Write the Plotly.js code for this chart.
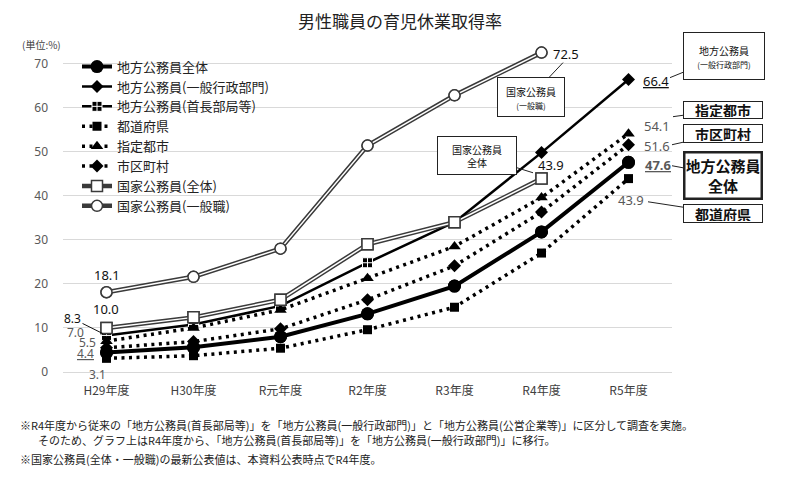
<!DOCTYPE html>
<html><head><meta charset="utf-8">
<script src="https://cdn.plot.ly/plotly-3.0.1.min.js"></script>
<style>html,body{margin:0;padding:0;background:#fff;}#chart{width:800px;height:499px;}</style>
</head><body><div id="chart"></div>
<script>
// ---- data ----
const categories = ['H29年度','H30年度','R元年度','R2年度','R3年度','R4年度','R5年度'];
const chihouAll   = [4.4, 5.6, 8.0, 13.2, 19.5, 31.8, 47.6];
const ippanGyosei = [null, null, null, null, null, 49.8, 66.4];
const shucho      = [8.3, 10.8, 15.0, 24.8, 34.0, null, null];
const todofuken   = [3.1, 3.7, 5.4, 9.6, 14.7, 27.0, 43.9];
const shitei      = [7.0, 10.0, 14.1, 21.3, 28.5, 39.6, 54.1];
const shiku       = [5.5, 6.9, 9.8, 16.4, 24.1, 36.3, 51.6];
const kokkaAll    = [10.0, 12.4, 16.4, 29.0, 34.0, 43.9, null];
const kokkaIppan  = [18.1, 21.6, 28.0, 51.4, 62.8, 72.5, null];
const seriesNames = ['地方公務員全体','地方公務員(一般行政部門)','地方公務員(首長部局等)','都道府県','指定都市','市区町村','国家公務員(全体)','国家公務員(一般職)'];

const JP = '"Noto Sans CJK JP", "Noto Sans", sans-serif';
const NUM = '"Noto Sans", "Liberation Sans", sans-serif';
const DOT = '3px,4.5px';
const base = {x: categories, type: 'scatter', cliponaxis: false, hoverinfo: 'skip'};

const traces = [
  Object.assign({}, base, {name: seriesNames[0], y: chihouAll, mode: 'lines+markers',
    line: {color: '#000', width: 4}, marker: {symbol: 'circle', size: 13, color: '#000'}}),
  Object.assign({}, base, {name: seriesNames[1], y: ippanGyosei, mode: 'lines+markers',
    line: {color: '#000', width: 2.5}, marker: {symbol: 'diamond', size: 10, color: '#000'}}),
  Object.assign({}, base, {name: seriesNames[2], y: shucho, mode: 'lines+markers',
    line: {color: '#000', width: 2.5}, marker: {symbol: 'square-cross', size: 10, color: '#000', line: {color: '#fff', width: 1}}}),
  Object.assign({}, base, {name: seriesNames[3], y: todofuken, mode: 'lines+markers',
    line: {color: '#000', width: 3.5, dash: DOT}, marker: {symbol: 'square', size: 9, color: '#000'}}),
  Object.assign({}, base, {name: seriesNames[4], y: shitei, mode: 'lines+markers',
    line: {color: '#000', width: 3.5, dash: DOT}, marker: {symbol: 'triangle-up', size: 11, color: '#000'}}),
  Object.assign({}, base, {name: seriesNames[5], y: shiku, mode: 'lines+markers',
    line: {color: '#000', width: 3.5, dash: DOT}, marker: {symbol: 'diamond', size: 10, color: '#000'}}),
  Object.assign({}, base, {name: seriesNames[6], y: kokkaAll, mode: 'lines+markers',
    line: {color: '#3a3a3a', width: 4.5}, marker: {symbol: 'square', size: 11, color: '#fff', line: {color: '#3a3a3a', width: 1.5}}}),
  Object.assign({}, base, {name: seriesNames[7], y: kokkaIppan, mode: 'lines+markers',
    line: {color: '#3a3a3a', width: 4.5}, marker: {symbol: 'circle', size: 11, color: '#fff', line: {color: '#3a3a3a', width: 1.5}}}),
  // helper: connector from 首長部局等 (R3) to 一般行政部門 (R4)
  Object.assign({}, base, {showlegend: false, x: [categories[4], categories[5]], y: [shucho[4], ippanGyosei[5]], mode: 'lines',
    line: {color: '#000', width: 2.5}}),
  // helper: white inner lines for double lines
  Object.assign({}, base, {showlegend: false, y: kokkaAll, mode: 'lines', line: {color: '#fff', width: 1.5}}),
  Object.assign({}, base, {showlegend: false, y: kokkaIppan, mode: 'lines', line: {color: '#fff', width: 1.5}}),
  Object.assign({}, base, {showlegend: false, y: kokkaAll, mode: 'markers', marker: {symbol: 'square', size: 11, color: '#fff', line: {color: '#3a3a3a', width: 1.5}}}),
  Object.assign({}, base, {showlegend: false, y: kokkaIppan, mode: 'markers', marker: {symbol: 'circle', size: 11, color: '#fff', line: {color: '#3a3a3a', width: 1.5}}}),
  Object.assign({}, base, {showlegend: false, y: chihouAll, mode: 'markers', marker: {symbol: 'circle', size: 13, color: '#000'}})
];

// ---- plot geometry helpers (for callout boxes) ----
const YMAX = 74;
const L = 63, R = 672, B = 372, T = B - YMAX * (308 / 70);
const px = v => (v - L) / (R - L);
const py = v => (B - v) / (B - T);

function lab(i, val, text, xs, ys, color, size) {
  return {xref: 'x', yref: 'y', x: categories[i], y: val, text: text, showarrow: false,
    xshift: xs, yshift: ys, font: {family: NUM, size: size || 13, color: color}};
}
const G = '#595959', K = '#111';
const annotations = [
  lab(0, kokkaIppan[0], kokkaIppan[0].toFixed(1), 0, 17, K),
  lab(0, kokkaAll[0], kokkaAll[0].toFixed(1), -1, 19, K),
  {xref: 'x', yref: 'y', x: categories[0], y: shucho[0], text: shucho[0].toFixed(1), showarrow: true,
    arrowhead: 0, arrowwidth: 1, arrowcolor: '#111', ax: -34, ay: -17, standoff: 4,
    font: {family: NUM, size: 12, color: K}},
  lab(0, shitei[0], shitei[0].toFixed(1), -31, 9, G, 12),
  lab(0, shiku[0], shiku[0].toFixed(1), -19, 5, G, 12),
  lab(0, chihouAll[0], '<u>' + chihouAll[0].toFixed(1) + '</u>', -21, -1, G, 12),
  lab(0, todofuken[0], todofuken[0].toFixed(1), -9, -16, G, 12),
  lab(5, kokkaIppan[5], kokkaIppan[5].toFixed(1), 24, -1, K),
  lab(6, ippanGyosei[6], '<u>' + ippanGyosei[6].toFixed(1) + '</u>', 27, -2, K),
  lab(6, shitei[6], shitei[6].toFixed(1), 28, 8, G),
  lab(6, shiku[6], shiku[6].toFixed(1), 28, -1, G),
  lab(6, chihouAll[6], '<b><u>' + chihouAll[6].toFixed(1) + '</u></b>', 29, -3, G),
  lab(6, todofuken[6], todofuken[6].toFixed(1), 2, -21, G),
  lab(5, kokkaAll[5], kokkaAll[5].toFixed(1), 9, 14, K),
  // unit
  {xref: 'paper', yref: 'paper', x: px(20), y: py(45), xanchor: 'left', yanchor: 'middle', showarrow: false,
    text: '(単位:%)', font: {family: JP, size: 10, color: '#444'}},
  // footnotes
  {xref: 'paper', yref: 'paper', x: px(18), y: py(425), xanchor: 'left', yanchor: 'middle', showarrow: false,
    text: '※R4年度から従来の「地方公務員(首長部局等)」を「地方公務員(一般行政部門)」と「地方公務員(公営企業等)」に区分して調査を実施。',
    font: {family: JP, size: 11, color: '#222'}},
  {xref: 'paper', yref: 'paper', x: px(36), y: py(440), xanchor: 'left', yanchor: 'middle', showarrow: false,
    text: 'そのため、グラフ上はR4年度から、「地方公務員(首長部局等)」を「地方公務員(一般行政部門)」に移行。',
    font: {family: JP, size: 11, color: '#222'}},
  {xref: 'paper', yref: 'paper', x: px(18), y: py(459), xanchor: 'left', yanchor: 'middle', showarrow: false,
    text: '※国家公務員(全体・一般職)の最新公表値は、本資料公表時点でR4年度。',
    font: {family: JP, size: 11, color: '#222'}}
];

function callout(tipX, tipY, cx, cy, w, h, text, size, bw, bold) {
  return {xref: 'paper', yref: 'paper', x: px(tipX), y: py(tipY), ax: cx - tipX, ay: cy - tipY,
    axref: 'pixel', ayref: 'pixel', showarrow: true, arrowhead: 0, arrowwidth: 1, arrowcolor: '#222',
    text: bold ? '<b>' + text + '</b>' : text, width: w, height: h, align: 'center', valign: 'middle',
    bgcolor: '#fff', bordercolor: '#222', borderwidth: bw, borderpad: 1,
    font: {family: JP, size: size, color: '#111'}};
}
annotations.push(
  callout(563, 63, 531, 97, 64, 36, '国家公務員<br><span style="font-size:8px">(一般職)</span>', 10, 1, false),
  callout(533, 173, 477, 155.5, 76, 35, '国家公務員<br>全体', 10, 1, false),
  callout(670, 78, 724, 56, 78, 44, '地方公務員<br><span style="font-size:8px">(一般行政部門)</span>', 10, 1, false),
  callout(673, 117, 723, 110, 76, 14, '指定都市', 14, 1, true),
  callout(672, 145, 723, 133.5, 76, 15, '市区町村', 14, 1, true),
  callout(672, 166, 723, 175.5, 73, 42, '地方公務員<br>全体', 15, 2.5, true),
  callout(648, 202, 723, 213.5, 76, 15, '都道府県', 14, 1, true)
);

const layout = {
  width: 800, height: 499,
  margin: {l: L, r: 800 - R, t: T, b: 499 - B, pad: 0},
  paper_bgcolor: '#fff', plot_bgcolor: '#fff',
  title: {text: '男性職員の育児休業取得率', x: 0.5, xanchor: 'center', y: 1 - 22 / 499, yanchor: 'middle',
    font: {family: JP, size: 17, color: '#222'}},
  showlegend: true,
  legend: {x: px(77), y: py(52), xanchor: 'left', yanchor: 'top', bgcolor: 'rgba(0,0,0,0)',
    font: {family: JP, size: 13, color: '#222'}, traceorder: 'normal', itemwidth: 30, tracegroupgap: 0},
  xaxis: {type: 'category', range: [-0.5, 6.5], showgrid: false, zeroline: false, showline: false,
    ticks: '', ticklabelstandoff: 10, tickfont: {family: JP, size: 12, color: '#404040'}, fixedrange: true},
  yaxis: {range: [0, YMAX], tickvals: [0, 10, 20, 30, 40, 50, 60, 70], showgrid: true, gridcolor: '#d9d9d9', gridwidth: 1,
    zeroline: true, zerolinecolor: '#d9d9d9', zerolinewidth: 1, showline: false, ticks: '',
    ticklabelstandoff: 14, tickfont: {family: NUM, size: 12, color: '#595959'}, fixedrange: true},
  annotations: annotations,
  hovermode: false
};

Plotly.newPlot('chart', traces, layout, {displayModeBar: false, staticPlot: true});
</script>
</body></html>
